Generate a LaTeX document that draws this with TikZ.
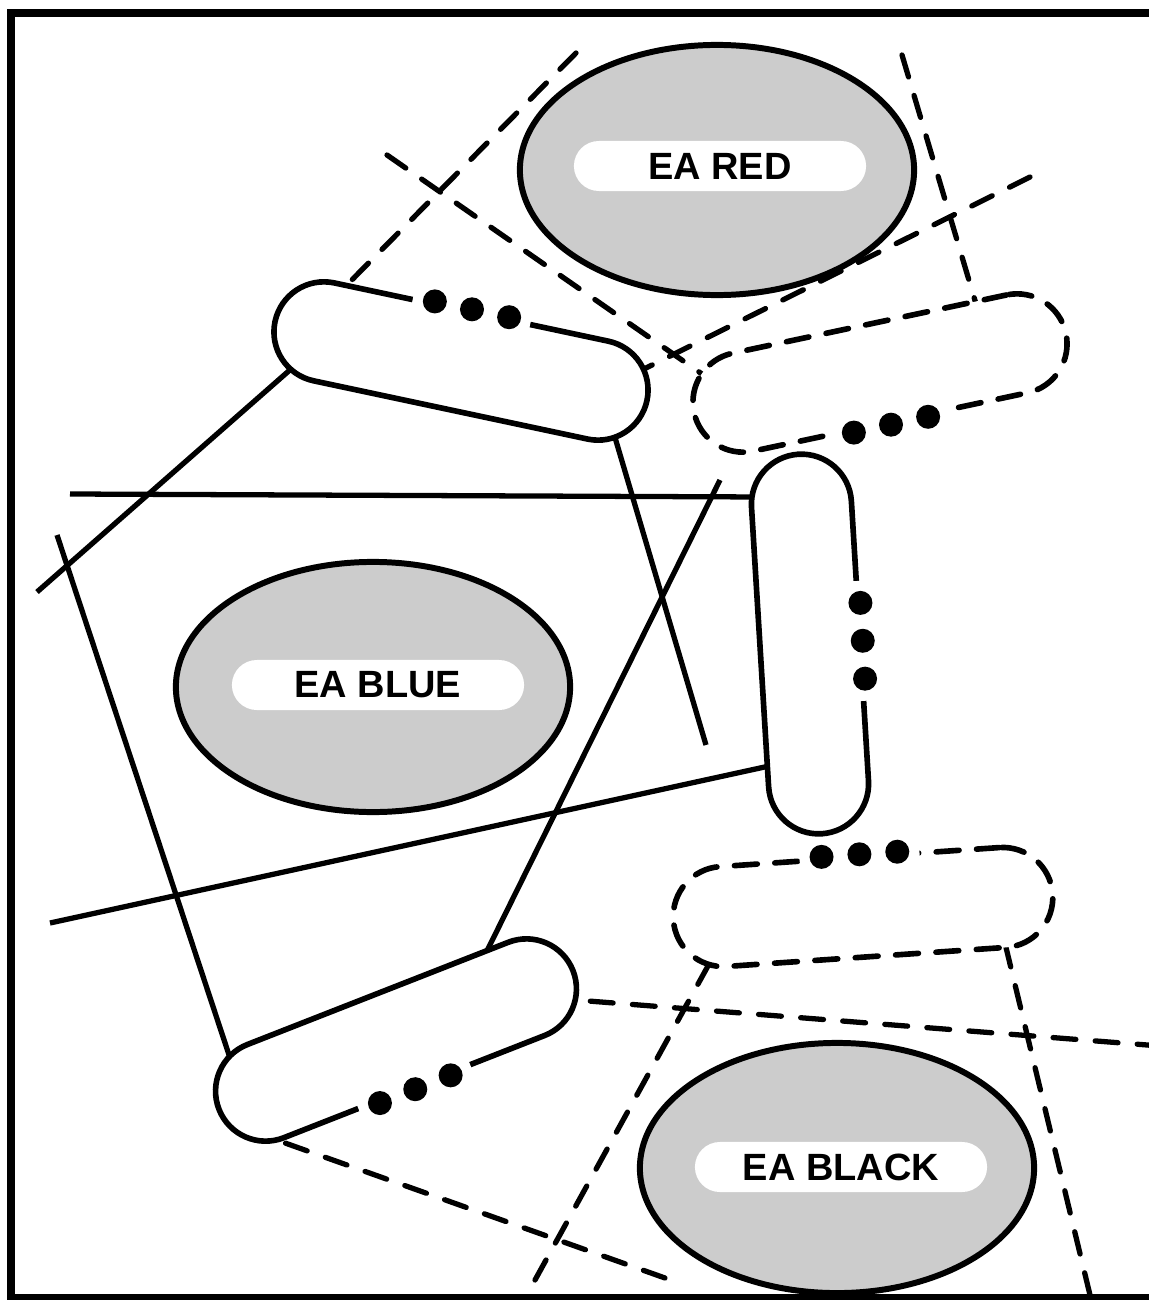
\documentclass[tikz,border=0pt]{standalone}
\usepackage{fontspec}
\setsansfont{Liberation Sans}
\usetikzlibrary{shapes.geometric, calc, backgrounds}

\begin{document}
\begin{tikzpicture}[
    x=0.01cm, y=-0.01cm,
    agent/.style={draw, ellipse, line width=1.7pt, fill=black!20, minimum width=3.94cm, minimum height=2.5cm},
    tag/.style={fill=white, rounded corners=0.25cm, minimum width=2.92cm, minimum height=0.5cm, inner sep=0pt, font=\sffamily\bfseries\fontsize{10.8}{13}\selectfont},
    link/.style={draw, fill=white, line width=1.6pt, rounded corners=0.5cm, minimum width=3.8cm, minimum height=1cm, inner sep=0pt},
    dashlink/.style={link, dash pattern=on 6.5pt off 5pt, line cap=round},
    gap/.style={fill=white, minimum width=1.2cm, minimum height=0.25cm, inner sep=0pt},
    wire/.style={line width=1.5pt},
    dashwire/.style={line width=1.5pt, dash pattern=on 6.5pt off 5.5pt, line cap=round}
]
\useasboundingbox (0,0) rectangle (1148,1300);

% Frame
\draw[line width=2.3pt] (1160,13) -- (11,13) -- (11,1298) -- (1160,1298);

% Agents
\node[agent] (red) at (717,170) {};
\node[tag] (redtag) at (720,166) {EA RED};
\node[agent] (blue) at (373,687) {};
\node[tag] (bluetag) at (378,685) {EA BLUE};
\node[agent] (black) at (837,1168) {};
\node[tag] (blacktag) at (841,1167) {EA BLACK};

% Links
\node[link, rotate=-12] (A) at (461,361) {};
\node[dashlink, rotate=12] (B) at (880,373) {};
\node[link, rotate=93.5] (C) at (810,644) {};
\node[link, rotate=21.4] (D) at (396,1040) {};
\node[dashlink, rotate=3.9] (E) at (863,907) {};

% Gaps with dots
\node[gap, rotate=-12] (gA) at (A.north) {};
\node[gap, rotate=12] (gB) at (B.south) {};
\node[gap, rotate=93.5] (gC) at (C.south) {};
\node[gap, rotate=21.4] (gD) at (D.south) {};
\node[gap, rotate=3.9] (gE) at (E.north) {};
\foreach \g in {gA, gB, gC, gD, gE} {
    \foreach \f in {-0.625, 0, 0.625}
        \fill ($(\g.center)!\f!(\g.east)$) circle[radius=0.12cm];
}

% Connections
\coordinate (f1) at (37,592);    \coordinate (a1) at (299,362);
\coordinate (f2) at (706,745);   \coordinate (a2) at (611,424);
\coordinate (f3) at (70,494);    \coordinate (c1) at (763,497);
\coordinate (f4) at (50,923);    \coordinate (c2) at (783,763);
\coordinate (f5) at (720,480);   \coordinate (d1) at (480,965);
\coordinate (f6) at (57,535);    \coordinate (d2) at (233,1067);
\coordinate (g1) at (576,53);    \coordinate (a3) at (336,296);
\coordinate (g2) at (387,155);   \coordinate (b1) at (702,374);
\coordinate (g3) at (1030,177);  \coordinate (a4) at (634,374);
\coordinate (g4) at (902,55);    \coordinate (b2) at (979,314);
\coordinate (g5) at (535,1280);  \coordinate (e1) at (714,955);
\coordinate (g6) at (1090,1295); \coordinate (e2) at (1003,935);
\coordinate (g7) at (1160,1046); \coordinate (d3) at (563,999);
\coordinate (g8) at (665,1278);  \coordinate (d4) at (271,1138);
\begin{scope}[on background layer]
\foreach \s/\t in {f1/a1, f2/a2, f3/c1, f4/c2, f5/d1, f6/d2}
    \draw[wire] (\s) -- (\t);
\foreach \s/\t in {g1/a3, g2/b1, g3/a4, g4/b2, g5/e1, g6/e2, g7/d3, g8/d4}
    \draw[dashwire] (\s) -- (\t);
\end{scope}

\end{tikzpicture}
\end{document}
